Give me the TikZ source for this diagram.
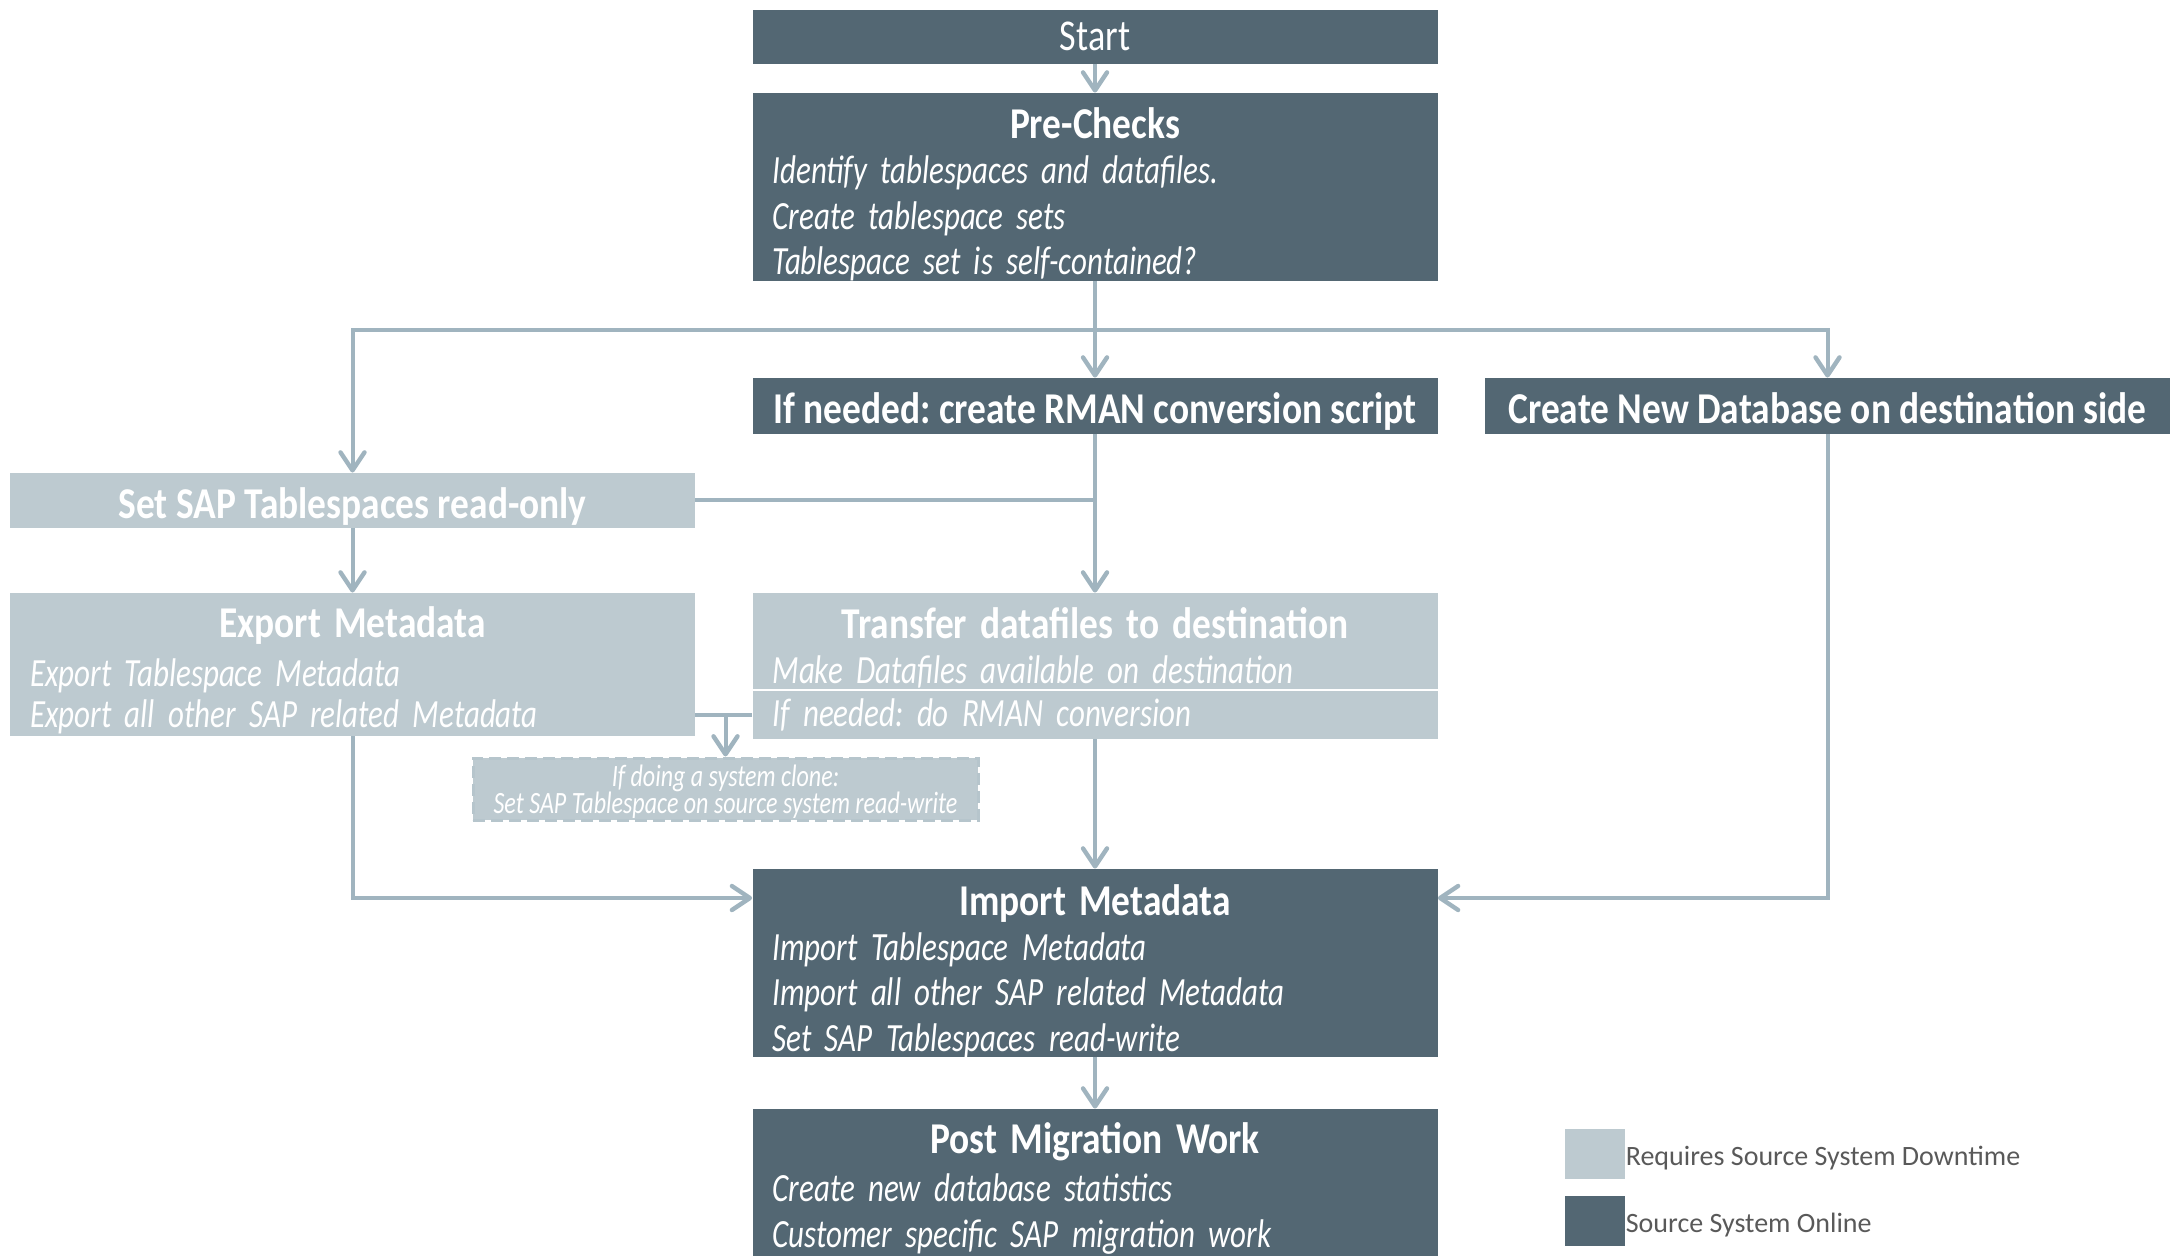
\documentclass[tikz,border=0pt]{standalone}
\usepackage{fontspec}
\setmainfont[UprightFeatures={FakeStretch=0.82},
             BoldFeatures={FakeStretch=0.85},
             ItalicFeatures={FakeStretch=0.775}]{Carlito}
\newfontfamily\keyfont{Carlito}
\usepackage{tikz}
\usetikzlibrary{arrows.meta}
\frenchspacing
\definecolor{onlinebox}{RGB}{83,103,115}
\definecolor{downbox}{RGB}{189,202,208}
\definecolor{flowline}{RGB}{160,180,191}
\definecolor{legendtext}{RGB}{89,89,89}
\newcommand{\cardhead}[1]{\makebox[\linewidth]{\rule{0pt}{18pt}\normalfont\bfseries\fontsize{22}{23}\selectfont #1}}

\tikzset{
  online/.style={fill=onlinebox, text=white, inner xsep=10pt, inner ysep=0pt,
                 minimum width=342.5pt},
  down/.style={fill=downbox, text=white, inner xsep=10pt, inner ysep=0pt,
               minimum width=342.5pt},
  cardtext/.style={anchor=north, text=white, inner sep=0pt, text width=322.5pt,
                   align=left, font=\itshape\fontsize{20}{22.7}\selectfont},
  title/.style={font=\bfseries\fontsize{22}{26}\selectfont,
                text height=18pt, text depth=0pt},
  flow/.style={draw=flowline, line width=2pt,
               -{Straight Barb[length=9pt,width=12pt,line width=2.2pt,round]}},
  link/.style={draw=flowline, line width=2pt},
  clonebox/.style={fill=downbox, draw=downbox!75!flowline, line width=1.5pt,
                   dash pattern=on 6pt off 3pt,
                   minimum width=252.5pt, minimum height=31pt, inner sep=0pt},
  clonetext/.style={text=white, align=center, inner sep=0pt,
                    font=\itshape\fontsize{15.5}{13.6}\selectfont},
  keybox/.style={minimum width=30pt, minimum height=25pt, inner sep=0pt},
  keytext/.style={text=legendtext, inner sep=0pt, anchor=west,
                  text height=11pt, text depth=0pt,
                  font=\keyfont\fontsize{14}{16}\selectfont}
}

\begin{document}
\begin{tikzpicture}[x=0.5pt,y=-0.5pt]
  \useasboundingbox (0,0) rectangle (2173,1256);
  % online steps, centre column
  \node[online, minimum height=27pt, font=\fontsize{22}{26}\selectfont,
        text height=14pt, text depth=0pt] (start) at (1095,37) {Start};
  \node[online, minimum height=94pt] (pre) at (1095,187) {};
  \node[cardtext] (pre-txt) at ([yshift=-4.8pt]pre.north)
    {\cardhead{Pre-Checks}\\ Identify tablespaces and datafiles.\\ Create tablespace sets\\ Tablespace set is self-contained?};
  \node[online, title, minimum height=28pt] (rman) at (1095,406) {If needed: create RMAN conversion script};
  \node[online, title, minimum height=28pt] (newdb) at (1827.5,406) {Create New Database on destination side};
  % steps with downtime
  \node[down, title, minimum height=27.5pt] (ro) at (352.5,500.5) {Set SAP Tablespaces read-only};
  \node[down, minimum height=71.5pt] (export) at (352.5,664.5) {};
  \node[cardtext, font=\itshape\fontsize{20}{20.5}\selectfont] (export-txt) at ([yshift=-4.4pt]export.north)
    {\cardhead{Export Metadata}\\[4pt] Export Tablespace Metadata\\ Export all other SAP related Metadata};
  \node[down, minimum height=48pt] (transfer) at (1095,641) {};
  \node[cardtext] (transfer-txt) at ([yshift=-4.6pt]transfer.north)
    {\cardhead{Transfer datafiles to destination}\\ Make Datafiles available on destination};
  \node[down, minimum height=24pt, text width=322.5pt, align=left, text height=11pt, text depth=0pt,
        font=\itshape\fontsize{20}{22}\selectfont] (rmanconv) at (1095,715) {If needed: do RMAN conversion};
  \node[clonebox] (clone) at (725.5,789) {};
  \node[clonetext] (clone-txt) at ([yshift=-1.2pt]clone.center)
    {If doing a system clone:\\ Set SAP Tablespace on source system read-write};
  % back online
  \node[online, minimum height=94pt] (import) at (1095,963) {};
  \node[cardtext] (import-txt) at ([yshift=-5pt]import.north)
    {\cardhead{Import Metadata}\\ Import Tablespace Metadata\\ Import all other SAP related Metadata\\ Set SAP Tablespaces read-write};
  \node[online, minimum height=73.5pt] (post) at (1095,1182.5) {};
  \node[cardtext] (post-txt) at ([yshift=-4pt]post.north)
    {\cardhead{Post Migration Work}\\[1.7pt] Create new database statistics\\ Customer specific SAP migration work};

  % legend
  \node[keybox, fill=downbox] (keydown) at (1595,1154) {};
  \node[keytext] (keydowntext) at (keydown.east) {Requires Source System Downtime};
  \node[keybox, fill=onlinebox] (keyon) at (1595,1221) {};
  \node[keytext] (keyontext) at (keyon.east) {Source System Online};

  % connectors
  \coordinate (fork) at (1095,330);
  \coordinate (imL) at ([yshift=32.5pt]import.west);
  \coordinate (imR) at ([yshift=32.5pt]import.east);
  \coordinate (clonein) at (rmanconv.west -| clone.north);
  \draw[flow] (start) -- (pre);
  \draw[flow] (pre) -- (rman);
  \draw[flow] (fork) -| (ro);
  \draw[flow] (fork) -| (newdb);
  \draw[flow] (rman) -- (transfer);
  \draw[link] (ro.east) -- (ro.east -| transfer.north);
  \draw[flow] (ro) -- (export);
  \draw[link] (rmanconv.west) -- (rmanconv.west -| export.east);
  \draw[flow] (clonein) -- (clone);
  \draw[flow] (export) |- (imL);
  \draw[flow] (newdb) |- (imR);
  \draw[flow] (rmanconv) -- (import);
  \draw[flow] (import) -- (post);
\end{tikzpicture}
\end{document}
